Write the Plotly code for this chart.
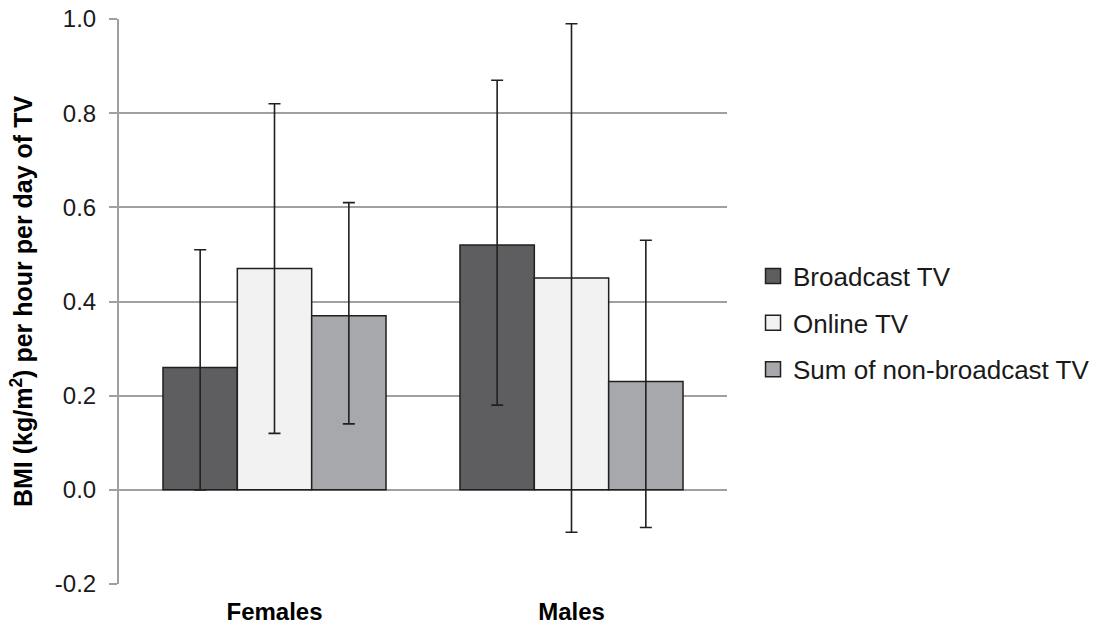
import plotly.graph_objects as go

categories = ["Females", "Males"]
series_names = ["Broadcast TV", "Online TV", "Sum of non-broadcast TV"]
broadcast = [0.26, 0.52]
online = [0.47, 0.45]
nonbroadcast = [0.37, 0.23]
broadcast_hi = [0.51, 0.87]
broadcast_lo = [0.00, 0.18]
online_hi = [0.82, 0.99]
online_lo = [0.12, -0.09]
nonbroadcast_hi = [0.61, 0.53]
nonbroadcast_lo = [0.14, -0.08]
y_ticks = [-0.2, 0.0, 0.2, 0.4, 0.6, 0.8, 1.0]

colors = ["#5e5e61", "#f2f2f2", "#a6a8ab"]
FONT = "Liberation Sans, Arial, Helvetica, sans-serif"
TXT = "#1a1a1a"
EDGE = "#231f20"

series = [
    (broadcast, broadcast_hi, broadcast_lo),
    (online, online_hi, online_lo),
    (nonbroadcast, nonbroadcast_hi, nonbroadcast_lo),
]

legend_names = ["legend", "legend2", "legend3"]
legend_y = [0.545, 0.462, 0.38]

fig = go.Figure()
for i, (vals, hi, lo) in enumerate(series):
    plus = [h - v for h, v in zip(hi, vals)]
    minus = [v - l for v, l in zip(vals, lo)]
    fig.add_trace(go.Bar(
        x=categories, y=vals, name=series_names[i],
        marker=dict(color=colors[i], line=dict(color=EDGE, width=1.5)),
        error_y=dict(type="data", symmetric=False, array=plus, arrayminus=minus,
                     color=EDGE, thickness=1.6, width=6),
        showlegend=False,
    ))

# legend entries with larger square swatches
for i, name in enumerate(series_names):
    fig.add_trace(go.Scatter(
        x=[None], y=[None], mode="markers", name=name,
        marker=dict(symbol="square", size=15, color=colors[i],
                    line=dict(color=EDGE, width=1.5)),
        legend=legend_names[i], showlegend=True, hoverinfo="skip",
    ))

layout_legends = {}
for i, ln in enumerate(legend_names):
    layout_legends[ln] = dict(
        x=1.0428, xanchor="left", y=legend_y[i], yanchor="middle",
        font=dict(family=FONT, size=26, color=TXT),
        bgcolor="rgba(0,0,0,0)", itemwidth=30,
    )

fig.update_layout(
    width=1099, height=632,
    margin=dict(l=119, r=372, t=19, b=48, autoexpand=False),
    paper_bgcolor="white", plot_bgcolor="white",
    barmode="group", bargap=0.249, bargroupgap=0,
    font=dict(family=FONT, size=24, color=TXT),
    showlegend=True,
    xaxis=dict(
        type="category", range=[-0.5236, 1.5236],
        showgrid=False, showline=False, ticks="",
        ticklabelstandoff=11, automargin=False,
        tickfont=dict(family=FONT, size=24, color="#000000", weight="bold"),
    ),
    yaxis=dict(
        range=[-0.2, 1.0], tickvals=y_ticks,
        ticktext=[f"{v:.1f}" for v in y_ticks],
        showgrid=True, gridcolor="#a0a0a0", gridwidth=2,
        showline=True, linecolor="#a0a0a0", linewidth=2,
        ticks="outside", ticklen=8, tickcolor="#a0a0a0", tickwidth=2,
        ticklabelstandoff=8, automargin=False,
        zeroline=False,
        tickfont=dict(family=FONT, size=24, color=TXT),
        title=dict(text="BMI (kg/m<sup>2</sup>) per hour per day of TV",
                   font=dict(family=FONT, size=25, color="#000000", weight="bold"),
                   standoff=15),
    ),
    **layout_legends,
)

fig.write_html("out.html", config={"displayModeBar": False},
               post_script="document.body.style.margin='0';document.body.style.padding='0';")
